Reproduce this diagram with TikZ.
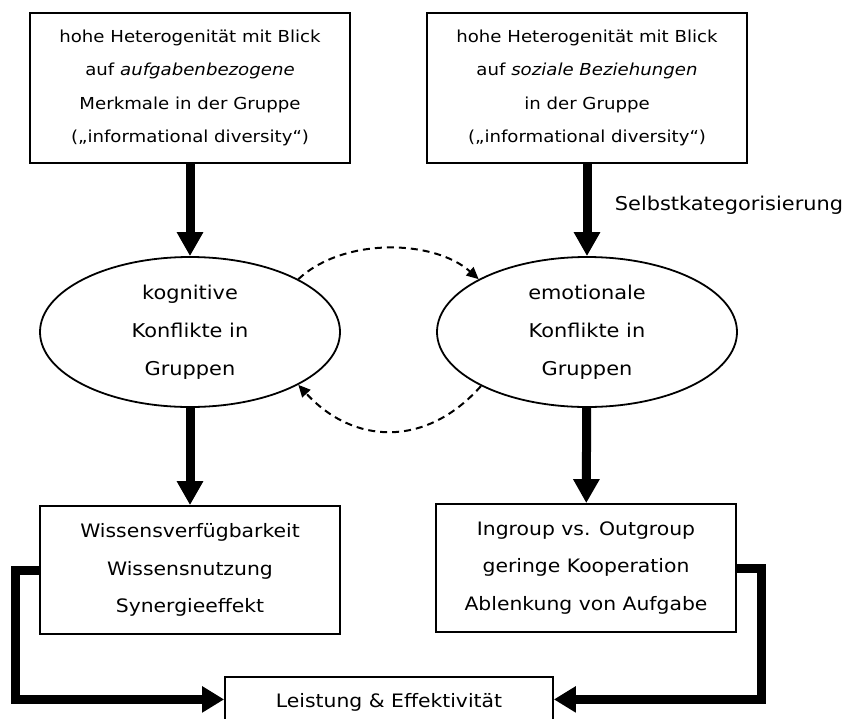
\documentclass[tikz,border=0pt]{standalone}
\usepackage{fontspec}
\setmainfont{DejaVu Sans}[FakeStretch=1.1]
\usetikzlibrary{arrows.meta,shapes.geometric,calc}

\tikzset{
  topbox/.style={draw, line width=1.8pt, rectangle, minimum width=320pt, minimum height=150pt,
    inner sep=0pt, align=center, font=\fontsize{16.5}{33.5}\selectfont},
  resbox/.style={draw, line width=1.8pt, rectangle, inner sep=0pt, align=center,
    font=\fontsize{18.5}{37.5}\selectfont},
  conflict/.style={draw, line width=1.8pt, ellipse, minimum width=300pt, minimum height=150pt,
    inner sep=0pt, align=center, font=\fontsize{19}{38}\selectfont},
  bigarrow/.style={line width=9pt, -{Triangle[length=24pt,width=25pt]}},
  elbowarrow/.style={line width=9pt, -{Triangle[length=22pt,width=25pt]}},
  loop/.style={line width=2pt, dash pattern=on 7pt off 5pt, -{Triangle[length=12pt,width=11pt]}}
}

\begin{document}
\begin{tikzpicture}[x=1pt,y=-1pt]
  \useasboundingbox (0,0) rectangle (848,718);
  \clip (0,0) rectangle (848,718);

  % sources of heterogeneity
  \node[topbox] (task) at (190,88) {hohe Heterogenität mit Blick\\auf \textit{aufgabenbezogene}\\Merkmale in der Gruppe\\(„informational diversity“)};
  \node[topbox] (social) at (587,88) {hohe Heterogenität mit Blick\\auf \textit{soziale Beziehungen}\\in der Gruppe\\(„informational diversity“)};

  % conflict types
  \node[conflict] (kog) at (190,332) {kognitive\\Konflikte in\\Gruppen};
  \node[conflict] (emo) at (587,332) {emotionale\\Konflikte in\\Gruppen};

  % consequences
  \node[resbox, minimum width=300pt, minimum height=128pt] (wiss) at (190,570) {Wissensverfügbarkeit\\Wissensnutzung\\Synergieeffekt};
  \node[resbox, minimum width=300pt, minimum height=128pt] (ingr) at (586,568) {Ingroup vs. Outgroup\\geringe Kooperation\\Ablenkung von Aufgabe};

  % outcome, running past the lower edge
  \node[draw, line width=1.8pt, rectangle, anchor=north, minimum width=328pt, inner xsep=0pt, inner ysep=0pt,
        text height=30.5pt, text depth=45pt, font=\fontsize{18.5}{22}\selectfont] (leis) at (389,676) {Leistung \& Effektivität};

  % label of the right branch
  \node[font=\fontsize{19}{22}\selectfont] (selbst) at (729,205) {Selbstkategorisierung};

  % main flow
  \draw[bigarrow] (task) -- (kog);
  \draw[bigarrow] (social) -- (emo);
  \draw[bigarrow] (kog) -- (wiss);
  \draw[bigarrow] (emo) -- (ingr);

  % mutual influence of the two conflict types
  \draw[loop] (kog.26) .. controls +(45,-42) and +(-45,-40) .. (emo.154);
  \draw[loop] (emo.207) .. controls +(-55,62) and +(55,60) .. (kog.334);

  % both branches feed into the outcome
  \draw[elbowarrow] (wiss.west) -- ++(-24,0) |- ($(leis.base west)+(0,-8)$);
  \draw[elbowarrow] (ingr.east) -- ++(25,0) |- ($(leis.base east)+(0,-8)$);
\end{tikzpicture}
\end{document}
